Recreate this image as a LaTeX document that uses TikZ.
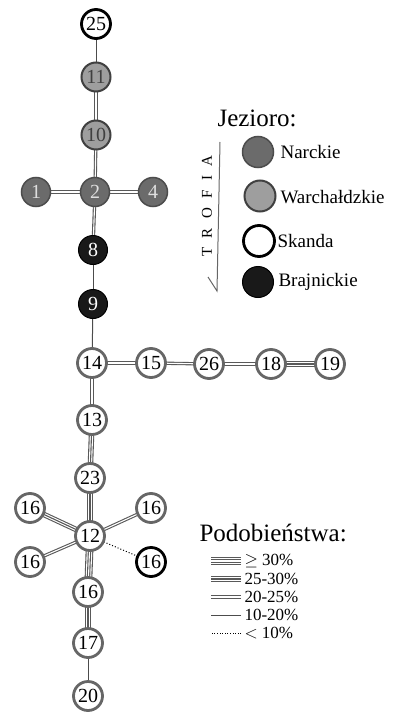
\documentclass[tikz,border=0pt]{standalone}
\usepackage{fontspec}
\setmainfont{Liberation Serif}
\usetikzlibrary{backgrounds}
\definecolor{narcfill}{gray}{0.42}
\definecolor{narcline}{gray}{0.3}
\definecolor{warchfill}{gray}{0.62}
\definecolor{linegray}{gray}{0.35}

\begin{document}
\begin{tikzpicture}[x=1pt, y=-1pt,
	lake/.style={circle, minimum size=29pt, inner sep=0pt, font=\fontsize{20}{20}\selectfont},
	narc/.style={lake, fill=narcfill, draw=narcline, line width=1.5pt, text=gray!25},
	warch/.style={lake, fill=warchfill, draw=black!75, line width=2pt, text=black!75},
	skan/.style={lake, fill=white, draw=black, line width=2.8pt},
	braj/.style={lake, fill=black!90, draw=black, line width=1pt, text=white},
	ring/.style={lake, fill=white, draw=black!60, line width=2.8pt},
	e0/.style={draw=black, dotted, line width=1pt},
	e1/.style={draw=black!70, line width=1pt},
	e2/.style={draw=linegray, line width=3.3pt, postaction={draw=white, line width=1.1pt}},
	e3/.style={draw=linegray, line width=5.5pt, postaction={draw=white, line width=3.3pt}, postaction={draw=linegray, line width=1.1pt}},
	e4/.style={draw=linegray, line width=7.7pt, postaction={draw=white, line width=5.5pt}, postaction={draw=linegray, line width=3.3pt}, postaction={draw=white, line width=1.1pt}},
	head/.style={anchor=west, font=\fontsize{25}{25}\selectfont},
	lakename/.style={anchor=west, font=\fontsize{19}{19}\selectfont},
	perc/.style={anchor=west, font=\fontsize{17}{17}\selectfont}]
	\useasboundingbox (0,0) rectangle (396,714);

	\node[skan] (n25) at (96,24) {25};
	\node[warch] (n11) at (96,77) {11};
	\node[warch] (n10) at (96,135) {10};
	\node[narc] (n1) at (36,192) {1};
	\node[narc] (n2) at (95,192) {2};
	\node[narc] (n4) at (153,192) {4};
	\node[braj] (n8) at (93,250) {8};
	\node[braj] (n9) at (93,304) {9};
	\node[ring] (n14) at (92,363) {14};
	\node[ring] (n15) at (151,363) {15};
	\node[ring] (n26) at (209,364) {26};
	\node[ring] (n18) at (271,364) {18};
	\node[ring] (n19) at (330,364) {19};
	\node[ring] (n13) at (92,420) {13};
	\node[ring] (n23) at (90,478) {23};
	\node[ring] (n12) at (90,536) {12};
	\node[ring] (n16a) at (30,508) {16};
	\node[ring] (n16b) at (151,508) {16};
	\node[ring] (n16c) at (30,562) {16};
	\node[skan] (n16d) at (151,562) {16};
	\node[ring] (n16e) at (88,592) {16};
	\node[ring] (n17) at (88,643) {17};
	\node[ring] (n20) at (88,696) {20};

	\begin{scope}[on background layer]
		\draw[e1] (n25.center) -- (n11.center);
		\draw[e2] (n11.center) -- (n10.center);
		\draw[e2] (n10.center) -- (n2.center);
		\draw[e2] (n1.center) -- (n2.center);
		\draw[e2] (n2.center) -- (n4.center);
		\draw[e2] (n2.center) -- (n8.center);
		\draw[e1] (n8.center) -- (n9.center);
		\draw[e1] (n9.center) -- (n14.center);
		\draw[e2] (n14.center) -- (n15.center);
		\draw[e2] (n15.center) -- (n26.center);
		\draw[e2] (n26.center) -- (n18.center);
		\draw[e3] (n18.center) -- (n19.center);
		\draw[e2] (n14.center) -- (n13.center);
		\draw[e3] (n13.center) -- (n23.center);
		\draw[e3] (n23.center) -- (n12.center);
		\draw[e3] (n12.center) -- (n16a.center);
		\draw[e2] (n12.center) -- (n16b.center);
		\draw[e2] (n12.center) -- (n16c.center);
		\draw[e0] (n12.center) -- (n16d.center);
		\draw[e4] (n12.center) -- (n16e.center);
		\draw[e3] (n16e.center) -- (n17.center);
		\draw[e1] (n17.center) -- (n20.center);
	\end{scope}

	\node[head] (jez) at (214,118) {Jezioro:};
	\node[narc, minimum size=31pt] (lnar) at (258,152) {};
	\node[warch, minimum size=31pt] (lwar) at (260,196) {};
	\node[skan, minimum size=31pt] (lska) at (259,241) {};
	\node[braj, minimum size=31pt] (lbra) at (258,282) {};
	\node[lakename] (tnar) at (277,152) {Narckie};
	\node[lakename] (twar) at (277,197) {Warchałdzkie};
	\node[lakename] (tska) at (274,241) {Skanda};
	\node[lakename] (tbra) at (275,282) {Brajnickie};
	\node[rotate=90, font=\fontsize{15}{15}\selectfont] (trofia) at (207,206) {T\hspace{9.5pt}R\hspace{9.5pt}O\hspace{9.5pt}F\hspace{9.5pt}I\hspace{9.5pt}A};
	\coordinate (atop) at (220,142);
	\coordinate (abot) at (217,291);
	\draw[black!60, line width=1pt] (atop) -- (abot) -- ++(-9,-14);

	\node[head] (podo) at (196,533) {Podobieństwa:};
	\node[perc] (p1) at (241,561) {$\geq$ 30\%};
	\node[perc] (p2) at (241,579) {25-30\%};
	\node[perc] (p3) at (241,597) {20-25\%};
	\node[perc] (p4) at (241,615) {10-20\%};
	\node[perc] (p5) at (241,633) {$<$ 10\%};
	\draw[e4] (p1.west) -- ++(-30,0);
	\draw[e3] (p2.west) -- ++(-30,0);
	\draw[e2] (p3.west) -- ++(-30,0);
	\draw[e1] (p4.west) -- ++(-30,0);
	\draw[e0, line width=0.6pt] (p5.west) -- ++(-30,0);
\end{tikzpicture}
\end{document}
